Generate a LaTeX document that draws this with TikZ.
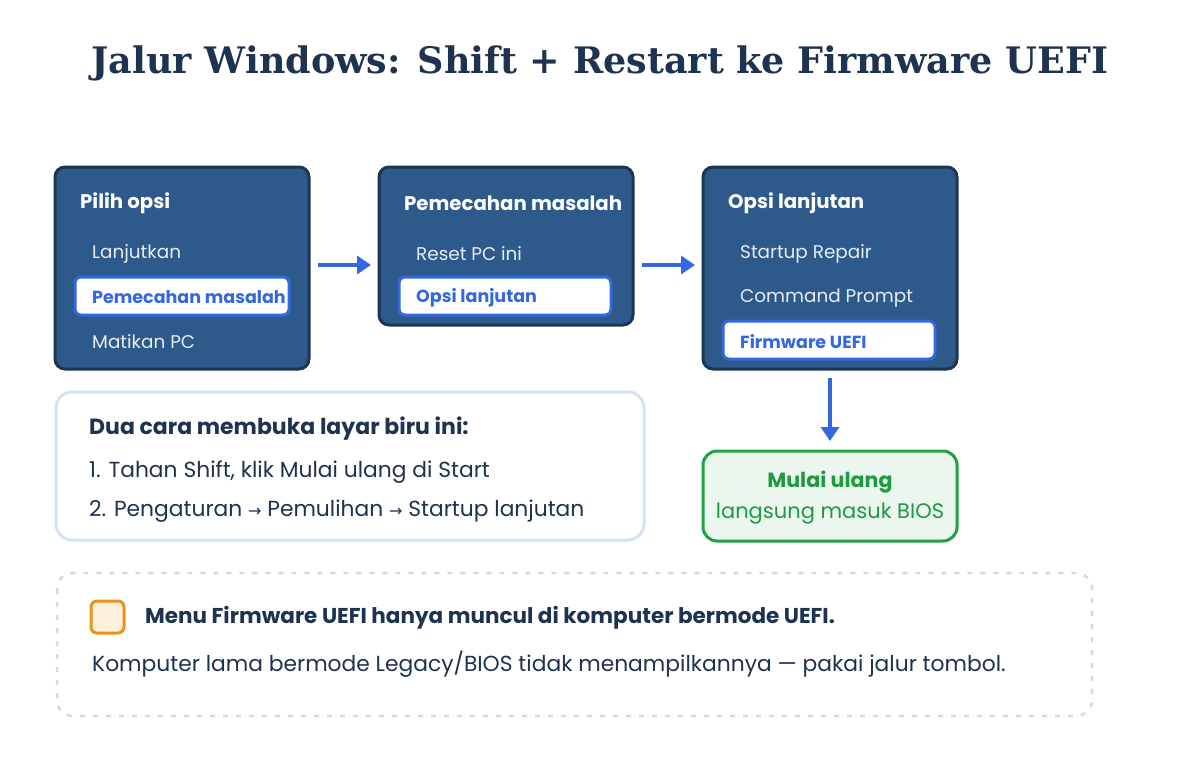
\documentclass[tikz,border=0pt]{standalone}
\usepackage{fontspec}
\setmainfont{Poppins}
\newfontfamily\titlefont{DejaVu Serif}
\newfontfamily\symfont{DejaVu Sans}
\usetikzlibrary{arrows.meta}
\definecolor{navy}{HTML}{1E3350}
\definecolor{panel}{HTML}{2D5A8A}
\definecolor{panelborder}{HTML}{1C3552}
\definecolor{itemtxt}{HTML}{E6EDF6}
\definecolor{hlblue}{HTML}{3468E0}
\definecolor{gfill}{HTML}{EBF6EE}
\definecolor{gborder}{HTML}{22A045}
\definecolor{gtext}{HTML}{1E9A40}
\definecolor{infoborder}{HTML}{D3E2F6}
\definecolor{dashgray}{HTML}{D3DAE4}
\definecolor{ofill}{HTML}{FDF0DC}
\definecolor{oborder}{HTML}{E8941A}
\tikzset{
  every node/.style={inner sep=0pt},
  panelbox/.style={draw=panelborder, fill=panel, line width=3pt, rounded corners=10pt},
  hlbox/.style={draw=hlblue, fill=white, line width=3pt, rounded corners=6pt},
  head/.style={anchor=west, text=white, font=\fontsize{19.7}{24}\selectfont\bfseries},
  item/.style={anchor=west, text=itemtxt, font=\fontsize{18.4}{22}\selectfont},
  hlitem/.style={anchor=west, text=hlblue, font=\fontsize{17.5}{22}\selectfont\bfseries},
  flow/.style={draw=hlblue, line width=4pt, -{Triangle[length=14pt,width=18pt]}},
  body/.style={anchor=west, text=navy, font=\fontsize{21.8}{26}\selectfont},
}
\begin{document}
\begin{tikzpicture}[x=1pt,y=-1pt]
\useasboundingbox (0,0) rectangle (1200,760);
\fill[white] (0,0) rectangle (1200,760);
\node[text=navy, font=\titlefont\fontsize{36.5}{44}\selectfont\bfseries] (title) at (600,63) {Jalur Windows: Shift + Restart ke Firmware UEFI};

% panel 1
\draw[panelbox] (55,167) rectangle (309,369);
\node[head] (h1) at (80,203) {Pilih opsi};
\node[item] (i11) at (92,254) {Lanjutkan};
\draw[hlbox] (75,277) rectangle (289,315);
\node[hlitem] (i12) at (92,297.5) {Pemecahan masalah};
\node[item] (i13) at (92,342) {Matikan PC};

% panel 2
\draw[panelbox] (379,167) rectangle (633,325);
\node[head] (h2) at (404,203) {Pemecahan masalah};
\node[item] (i21) at (416,254) {Reset PC ini};
\draw[hlbox] (399,277) rectangle (611,315);
\node[hlitem] (i22) at (416,297.5) {Opsi lanjutan};

% panel 3
\draw[panelbox] (703,167) rectangle (957,369);
\node[head] (h3) at (728,203) {Opsi lanjutan};
\node[item] (i31) at (740,254) {Startup Repair};
\node[item] (i32) at (740,298) {Command Prompt};
\draw[hlbox] (723,321) rectangle (935,359);
\node[hlitem] (i33) at (740,341.5) {Firmware UEFI};

% arrows
\coordinate (a1s) at (318,265); \coordinate (a1e) at (371,265);
\coordinate (a2s) at (642,265); \coordinate (a2e) at (695,265);
\coordinate (a3s) at (830,378); \coordinate (a3e) at (830,441);
\draw[flow] (a1s) -- (a1e);
\draw[flow] (a2s) -- (a2e);
\draw[flow] (a3s) -- (a3e);

% green result
\draw[draw=gborder, fill=gfill, line width=3pt, rounded corners=14pt] (703,451) rectangle (957,541);
\node[text=gtext, font=\fontsize{20.6}{25}\selectfont\bfseries] (g1) at (830,482) {Mulai ulang};
\node[text=gtext, font=\fontsize{21}{25}\selectfont] (g2) at (830,514) {langsung masuk BIOS};

% info box
\draw[draw=infoborder, fill=white, line width=3pt, rounded corners=16pt] (56,392) rectangle (644,540);
\node[body, font=\fontsize{22}{26}\selectfont\bfseries] (d0) at (89,429) {Dua cara membuka layar biru ini:};
\node[body] (d1) at (89,472) {1. Tahan Shift, klik Mulai ulang di Start};
\node[body] (d2) at (89,511) {2. Pengaturan {\symfont\fontsize{16}{20}\selectfont →} Pemulihan {\symfont\fontsize{16}{20}\selectfont →} Startup lanjutan};

% note box
\draw[draw=dashgray, line width=2.5pt, dash pattern=on 5pt off 8pt, rounded corners=16pt] (57,573) rectangle (1092,716);
\draw[draw=oborder, fill=ofill, line width=3pt, rounded corners=6pt] (91,601) rectangle (124,633);
\node[body, font=\fontsize{21.5}{26}\selectfont\bfseries] (n1) at (145,618) {Menu Firmware UEFI hanya muncul di komputer bermode UEFI.};
\node[body, font=\fontsize{21.8}{26}\selectfont] (n2) at (92,664) {Komputer lama bermode Legacy/BIOS tidak menampilkannya — pakai jalur tombol.};
\end{tikzpicture}
\end{document}
